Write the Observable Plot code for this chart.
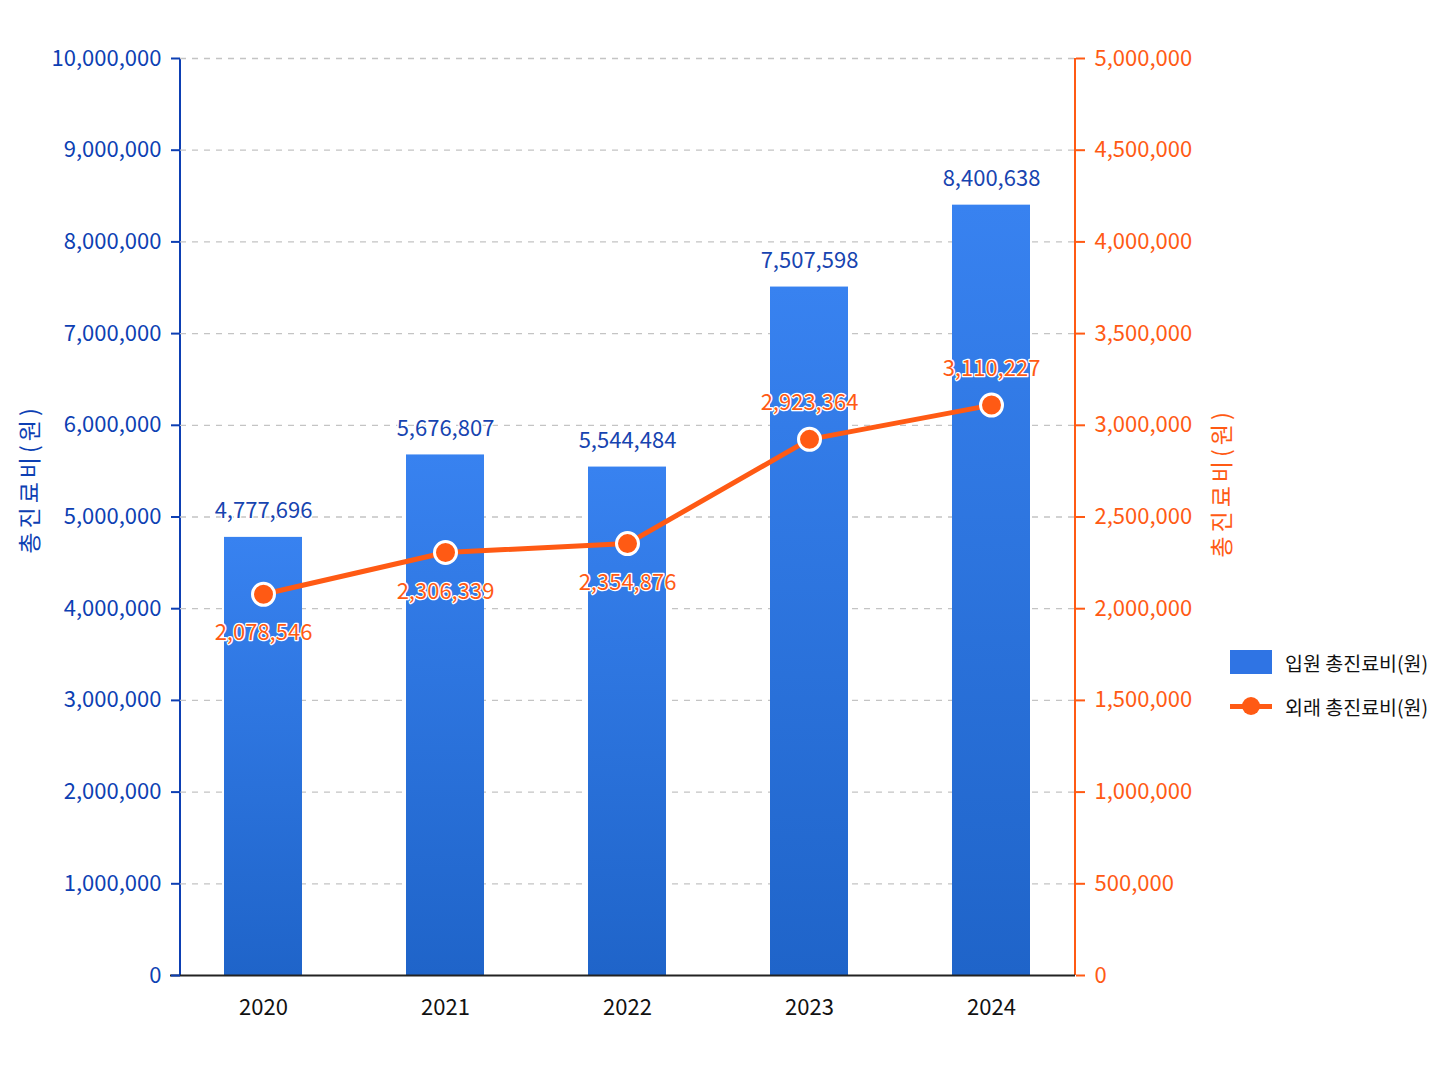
<!DOCTYPE html>
<html><head><meta charset="utf-8">
<script src="https://cdn.jsdelivr.net/npm/d3@7"></script>
<script src="https://cdn.jsdelivr.net/npm/@observablehq/plot@0.6"></script>
<style>
body{margin:0;background:#fff;font-family:"Noto Sans CJK KR","Noto Sans",sans-serif;}
#wrap{position:relative;width:1448px;height:1086px;}
#legend{position:absolute;left:1230px;top:646px;font-size:19.5px;color:#111;}
.li{display:flex;align-items:center;height:32px;margin-bottom:12px;}
.sw{width:42px;height:24px;margin-right:13px;position:relative;}
</style></head>
<body><div id="wrap"><div id="chart"></div>
<div id="legend">
 <div class="li"><div class="sw" style="background:#2f74e4"></div><span>입원 총진료비(원)</span></div>
 <div class="li"><div class="sw"><div style="position:absolute;left:0;top:10px;width:42px;height:5px;background:#ff5a14"></div><div style="position:absolute;left:12px;top:3px;width:18px;height:18px;border-radius:50%;background:#ff5a14"></div></div><span>외래 총진료비(원)</span></div>
</div></div>
<script>
const years = ["2020","2021","2022","2023","2024"];
const inpatient = [4777696, 5676807, 5544484, 7507598, 8400638];
const outpatient = [2078546, 2306339, 2354876, 2923364, 3110227];
const leftTicks = [0,1000000,2000000,3000000,4000000,5000000,6000000,7000000,8000000,9000000,10000000];
const axisTitle = "총진료비(원)";

const data = years.map((y,i)=>({year:y, inp:inpatient[i], out:outpatient[i]}));
const fmt = d3.format(",");
const BLUE = "#0d3fb3", ORANGE = "#ff5a14", FONT = '"Noto Sans CJK KR","Noto Sans",sans-serif';

function extras(index, scales, values, dim) {
  const g = d3.create("svg:g");
  const defs = g.append("defs");
  const lg = defs.append("linearGradient").attr("id","barGrad").attr("x1",0).attr("y1",0).attr("x2",0).attr("y2",1);
  lg.append("stop").attr("offset","0%").attr("stop-color","#3882f0");
  lg.append("stop").attr("offset","100%").attr("stop-color","#1f64c9");
  const x0 = dim.marginLeft, x1 = dim.width - dim.marginRight;
  const yTop = dim.marginTop, yBot = dim.height - dim.marginBottom;
  g.append("line").attr("x1",x0).attr("x2",x0).attr("y1",yTop).attr("y2",yBot).attr("stroke",BLUE).attr("stroke-width",2);
  g.append("line").attr("x1",x1).attr("x2",x1).attr("y1",yTop).attr("y2",yBot).attr("stroke",ORANGE).attr("stroke-width",2);
  return g.node();
}

const chart = Plot.plot({
  width: 1448, height: 1086,
  marginLeft: 180, marginRight: 373, marginTop: 58, marginBottom: 111,
  style: {fontFamily: FONT, background: "transparent"},
  x: {domain: years, type: "band", paddingInner: 0.57, paddingOuter: 0.235, axis: null},
  y: {domain: [0, 10000000], axis: null},
  marks: [
    extras,
    Plot.gridY(leftTicks.slice(1), {stroke: "#c4c4c4", strokeOpacity: 1, strokeDasharray: "6,6", strokeWidth: 1.3}),
    Plot.barY(data, {x: "year", y: "inp", fill: "url(#barGrad)"}),
    Plot.ruleY([0], {stroke: "#222", strokeWidth: 2, insetLeft: -10}),
    Plot.axisY({anchor: "left", ticks: leftTicks, tickFormat: fmt, color: BLUE, tickSize: 9, tickPadding: 10, fontSize: 22, label: null, strokeWidth: 2}),
    Plot.axisY({anchor: "right", ticks: leftTicks, tickFormat: d => fmt(d/2), color: ORANGE, tickSize: 9, tickPadding: 10, fontSize: 22, label: null, strokeWidth: 2}),
    Plot.axisX({anchor: "bottom", tickSize: 0, tickPadding: 24, fontSize: 22, color: "#111", label: null}),
    Plot.text([axisTitle], {frameAnchor: "left", textAnchor: "middle", text: d => d, rotate: -90, dx: -150, dy: -38, fill: BLUE, fontSize: 23}),
    Plot.text([axisTitle], {frameAnchor: "right", textAnchor: "middle", text: d => d, rotate: -90, dx: 147, dy: -34, fill: ORANGE, fontSize: 23}),
    Plot.line(data, {x: "year", y: d => d.out * 2, stroke: ORANGE, strokeWidth: 5}),
    Plot.dot(data, {x: "year", y: d => d.out * 2, r: 11, fill: ORANGE, stroke: "white", strokeWidth: 3}),
    Plot.text(data, {x: "year", y: "inp", text: d => fmt(d.inp), dy: -26, fill: "#1744b0", fontSize: 22, stroke: "white", strokeWidth: 3, paintOrder: "stroke"}),
    Plot.text(data, {filter: (d,i) => i < 3, x: "year", y: d => d.out * 2, text: d => fmt(d.out), dy: 39, fill: ORANGE, fontSize: 22, stroke: "white", strokeWidth: 2.5, paintOrder: "stroke"}),
    Plot.text(data, {filter: (d,i) => i >= 3, x: "year", y: d => d.out * 2, text: d => fmt(d.out), dy: -36, fill: ORANGE, fontSize: 22, stroke: "white", strokeWidth: 2.5, paintOrder: "stroke"})
  ]
});
d3.select(chart).selectAll("text").filter(function(){ return this.textContent === axisTitle; }).attr("letter-spacing", "4px");
document.getElementById("chart").appendChild(chart);
</script></body></html>
